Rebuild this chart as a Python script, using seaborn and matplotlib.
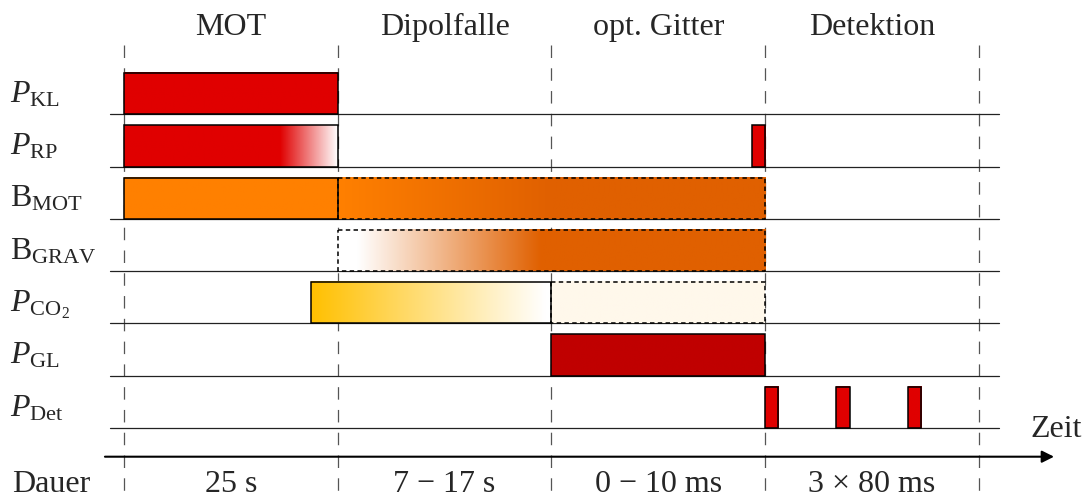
import numpy as np
import matplotlib
matplotlib.use("Agg")
import matplotlib.pyplot as plt
from matplotlib.colors import to_rgb
from matplotlib.patches import Rectangle
import seaborn as sns

# --- sequence description -------------------------------------------------
phases = ["MOT", "Dipolfalle", "opt. Gitter", "Detektion"]
durations = ["25 s", "7 \u2212 17 s", "0 \u2212 10 ms", "3 \u00d7 80 ms"]
signals = [r"$P_{\mathrm{KL}}$", r"$P_{\mathrm{RP}}$", r"$\mathrm{B}_{\mathrm{MOT}}$",
           r"$\mathrm{B}_{\mathrm{GRAV}}$", r"$P_{\mathrm{CO}_2}$", r"$P_{\mathrm{GL}}$",
           r"$P_{\mathrm{Det}}$"]

# time in units of sequence phases (0..4)
seg_row = [0, 1, 1, 2, 2, 3, 4, 4, 5, 6, 6, 6]
seg_start = [0.0, 0.0, 2.937, 0.0, 1.0, 1.0, 0.875, 2.0, 2.0, 3.0, 3.333, 3.667]
seg_end = [1.0, 1.0, 3.0, 1.0, 3.0, 3.0, 2.0, 3.0, 3.0, 3.062, 3.395, 3.729]
seg_dashed = [False, False, False, False, True, True, False, True, False, False, False, False]
seg_fill = ["kl", "rp", "red", "orange", "bmot_ramp", "bgrav_ramp", "co2_ramp", "cream",
            "darkred", "red", "red", "red"]

RED, DARKRED = "#E00000", "#C00000"
ORANGE, DARKORANGE = "#FF8000", "#E06000"
YELLOW, CREAM, WHITE = "#FFC000", "#FFF8EB", "#FFFFFF"

# fills: (position, colour) stops along the time axis
fills = {
    "kl": [(0.0, RED), (4.0, RED)],
    "red": [(0.0, RED), (4.0, RED)],
    "darkred": [(0.0, DARKRED), (4.0, DARKRED)],
    "orange": [(0.0, ORANGE), (4.0, ORANGE)],
    "cream": [(0.0, CREAM), (4.0, CREAM)],
    "rp": [(0.0, RED), (0.73, RED), (1.0, WHITE)],
    "bmot_ramp": [(1.0, ORANGE), (2.0, DARKORANGE), (3.0, DARKORANGE)],
    "bgrav_ramp": [(1.0, WHITE), (1.09, WHITE), (1.95, DARKORANGE), (3.0, DARKORANGE)],
    "co2_ramp": [(0.875, YELLOW), (1.97, WHITE), (2.0, WHITE)],
}

BAR_H = 0.79

sns.set_theme(style="white")
plt.rcParams["font.family"] = ["Liberation Serif", "DejaVu Serif"]
plt.rcParams["mathtext.fontset"] = "custom"
plt.rcParams["mathtext.rm"] = "Liberation Serif"
plt.rcParams["mathtext.it"] = "Liberation Serif:italic"
plt.rcParams["mathtext.bf"] = "Liberation Serif:bold"
plt.rcParams["lines.scale_dashes"] = False

fig = plt.figure(figsize=(10.91, 5.01), dpi=100)
ax = fig.add_axes([0, 0, 1, 1])
ax.set_xlim(-0.580, 4.524)
ax.set_ylim(7.394, -2.185)
ax.axis("off")

FS = 23

# phase boundaries
for b in range(len(phases) + 1):
    ax.plot([b, b], [-1.327, 7.394], color="#555555", lw=0.9,
            dashes=(9.0, 7.4), zorder=1, solid_capstyle="butt", dash_capstyle="butt")

# signal baselines and labels
for i, lab in enumerate(signals):
    ax.plot([-0.065, 4.094], [i, i], color="#222222", lw=0.9, zorder=1.5)
    ax.text(-0.535, i - 0.23, lab, fontsize=FS, ha="left", va="baseline")


def ramp_image(x0, x1, stops, n=400):
    xs = np.linspace(x0, x1, n)
    pos = [p for p, _ in stops]
    cols = np.array([to_rgb(c) for _, c in stops])
    img = np.stack([np.interp(xs, pos, cols[:, k]) for k in range(3)], axis=-1)
    return img[np.newaxis, :, :]


for r, x0, x1, dashed, f in zip(seg_row, seg_start, seg_end, seg_dashed, seg_fill):
    top, bot = r - BAR_H, r
    img = ramp_image(x0, x1, fills[f])
    ax.imshow(img, extent=(x0, x1, bot, top), aspect="auto",
              interpolation="bilinear", zorder=2)
    ls = (0, (3.2, 2.4)) if dashed else "solid"
    ax.add_patch(Rectangle((x0, top), x1 - x0, BAR_H, fill=False,
                           edgecolor="black", lw=1.1, linestyle=ls, zorder=3))

# phase titles and durations
for k, (name, dur) in enumerate(zip(phases, durations)):
    ax.text(k + 0.5, -1.516, name, fontsize=FS, ha="center", va="baseline")
    ax.text(k + 0.5, 7.23, dur, fontsize=FS, ha="center", va="baseline")

ax.text(-0.525, 7.23, "Dauer", fontsize=FS, ha="left", va="baseline")

# time axis
ax.annotate("", xy=(4.351, 6.547), xytext=(-0.089, 6.547),
            arrowprops=dict(arrowstyle="-|>", color="black", lw=1.5,
                            mutation_scale=18, shrinkA=0, shrinkB=0), zorder=3)
ax.text(4.482, 6.17, "Zeit", fontsize=FS, ha="right", va="baseline")

fig.savefig("out.png", dpi=100)
